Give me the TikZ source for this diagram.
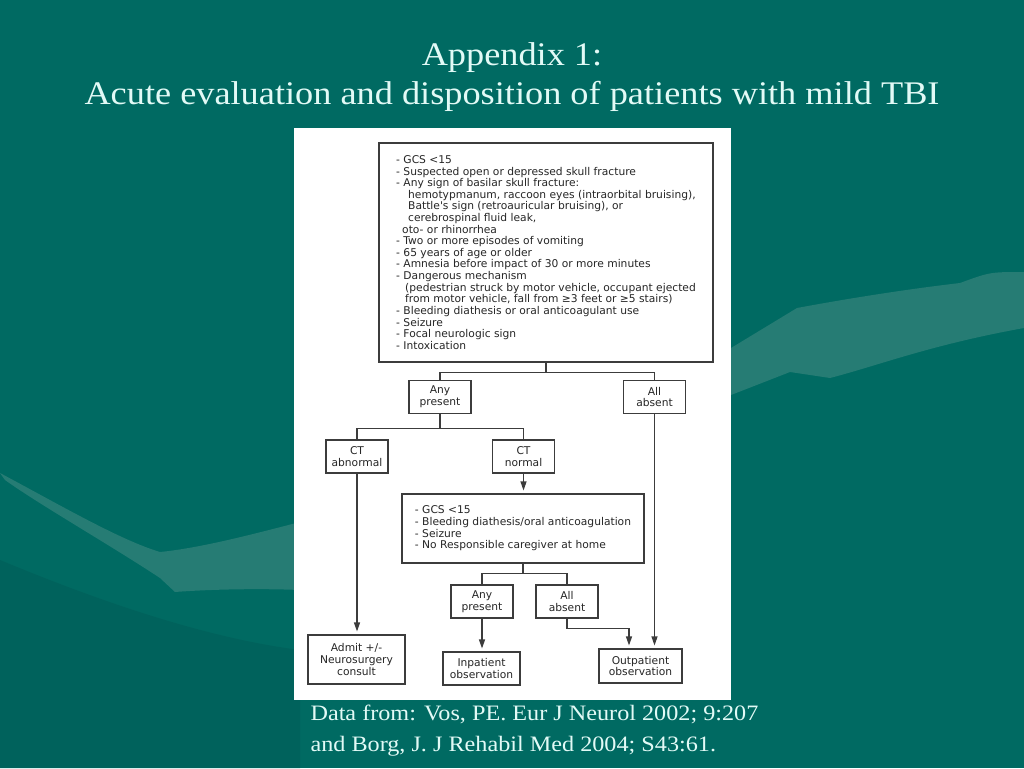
\documentclass[tikz,border=0pt]{standalone}
\usepackage{fontspec}
\setmainfont{Liberation Serif}
\newfontfamily\titlefont[FakeStretch=1.1]{Liberation Serif}
\newfontfamily\chartfont{DejaVu Sans}
\definecolor{slide}{RGB}{0,106,98}
\definecolor{swoosh}{RGB}{38,124,116}
\definecolor{swooshdark}{RGB}{0,98,92}
\definecolor{titlecol}{RGB}{226,250,246}
\definecolor{boxline}{RGB}{60,60,60}
\usetikzlibrary{arrows.meta}
\usetikzlibrary{calc}
\tikzset{
  box/.style={
    draw=boxline, line width=1.1pt, fill=white,
    align=center, inner sep=0pt, text=black!85,
    font=\chartfont\fontsize{10.7}{11.6}\selectfont
  },
  smallbox/.style={box, minimum width=62pt, minimum height=33pt},
  listbox/.style={box, align=left},
  link/.style={draw=boxline, line width=1.1pt},
  arrow/.style={link, -{Triangle[length=9pt,width=6pt]}, shorten >=3pt},
  heading/.style={anchor=base, text=titlecol, font=\titlefont\fontsize{33}{40}\selectfont},
  credit/.style={anchor=base west, text=titlecol, font=\titlefont\fontsize{22}{30}\selectfont}
}

\begin{document}
\begin{tikzpicture}[x=1pt,y=-1pt]
  \useasboundingbox (0,0) rectangle (1024,768);
  % slide background
  \fill[slide] (0,0) rectangle (1024,768);
  \fill[swooshdark] (0,560) .. controls (120,610) and (220,640) .. (300,650)
    -- (300,768) -- (0,768) -- cycle;
  \fill[swoosh] (0,473) .. controls (60,505) and (120,540) .. (160,552)
    .. controls (200,548) and (250,535) .. (300,522) -- (300,590)
    .. controls (250,588) and (200,590) .. (175,592) -- (160,578)
    .. controls (110,545) and (40,505) .. (5,480) -- cycle;
  \fill[swoosh] (731,395) -- (790,372) -- (830,378)
    .. controls (880,365) and (930,345) .. (1024,328) -- (1024,272)
    .. controls (990,272) .. (960,283)
    .. controls (900,290) and (840,300) .. (797,308) -- (731,348) -- cycle;
  \fill[white] (294,128) rectangle (731,700);

  % title and source
  \node[heading] (title) at (512,65) {Appendix 1:};
  \node[heading] (subtitle) at (512,104) {Acute evaluation and disposition of patients with mild TBI};
  \node[credit] (source) at (307,720) {Data from: Vos, PE. Eur J Neurol 2002; 9:207};
  \node[credit] (source2) at (307,751) {and Borg, J. J Rehabil Med 2004; S43:61.};

  % boxes
  \node[listbox, minimum width=334pt, minimum height=219pt] (signs) at (546,252.5) {
    - GCS <15\\
    - Suspected open or depressed skull fracture\\
    - Any sign of basilar skull fracture:\\
    \hspace*{12pt}hemotypmanum, raccoon eyes (intraorbital bruising),\\
    \hspace*{12pt}Battle's sign (retroauricular bruising), or\\
    \hspace*{12pt}cerebrospinal fluid leak,\\
    \hspace*{6pt}oto- or rhinorrhea\\
    - Two or more episodes of vomiting\\
    - 65 years of age or older\\
    - Amnesia before impact of 30 or more minutes\\
    - Dangerous mechanism\\
    \hspace*{9pt}(pedestrian struck by motor vehicle, occupant ejected\\
    \hspace*{9pt}from motor vehicle, fall from ≥3 feet or ≥5 stairs)\\
    - Bleeding diathesis or oral anticoagulant use\\
    - Seizure\\
    - Focal neurologic sign\\
    - Intoxication};
  \node[smallbox] (anyA) at (440,397) {Any\\present};
  \node[smallbox] (noneA) at (654.5,397) {All\\absent};
  \node[smallbox] (ctabn) at (357,456.5) {CT\\abnormal};
  \node[smallbox] (ctnorm) at (523.5,456.5) {CT\\normal};
  \node[listbox, minimum width=242pt, minimum height=69pt] (risks) at (523,528.5) {
    - GCS <15\\
    - Bleeding diathesis/oral anticoagulation\\
    - Seizure\\
    - No Responsible caregiver at home};
  \node[smallbox] (anyB) at (482,601.5) {Any\\present};
  \node[smallbox] (noneB) at (567,601.5) {All\\absent};
  \node[box, minimum width=97pt, minimum height=49pt] (admit) at (356.5,659.5) {Admit +/-\\Neurosurgery\\consult};
  \node[box, minimum width=77pt, minimum height=33pt] (inpat) at (481.5,668.5) {Inpatient\\observation};
  \node[box, minimum width=83pt, minimum height=34pt] (outpat) at (640.5,666) {Outpatient\\observation};

  % connectors
  \coordinate (splitA) at ($(signs.south)+(0,10)$);
  \coordinate (splitB) at ($(anyA.south)+(0,14)$);
  \coordinate (splitC) at ($(risks.south)+(0,10)$);
  \coordinate (bend) at ($(noneB.south)+(0,10)$);
  \draw[link] (signs.south) -- (splitA);
  \draw[link] (anyA.north) |- (splitA) -| (noneA.north);
  \draw[link] (anyA.south) -- (splitB);
  \draw[link] (ctabn.north) |- (splitB) -| (ctnorm.north);
  \draw[arrow] (ctnorm.south) -- (ctnorm.south |- risks.north);
  \draw[link] (risks.south) -- (splitC);
  \draw[link] (anyB.north) |- (splitC) -| (noneB.north);
  \draw[arrow] (anyB.south) -- (anyB.south |- inpat.north);
  \draw[arrow] (ctabn.south) -- (ctabn.south |- admit.north);
  \draw[arrow] (noneA.south) -- (noneA.south |- outpat.north);
  \draw[arrow] (noneB.south) -- (bend) -| ([xshift=-11.5pt]outpat.north);
\end{tikzpicture}
\end{document}
